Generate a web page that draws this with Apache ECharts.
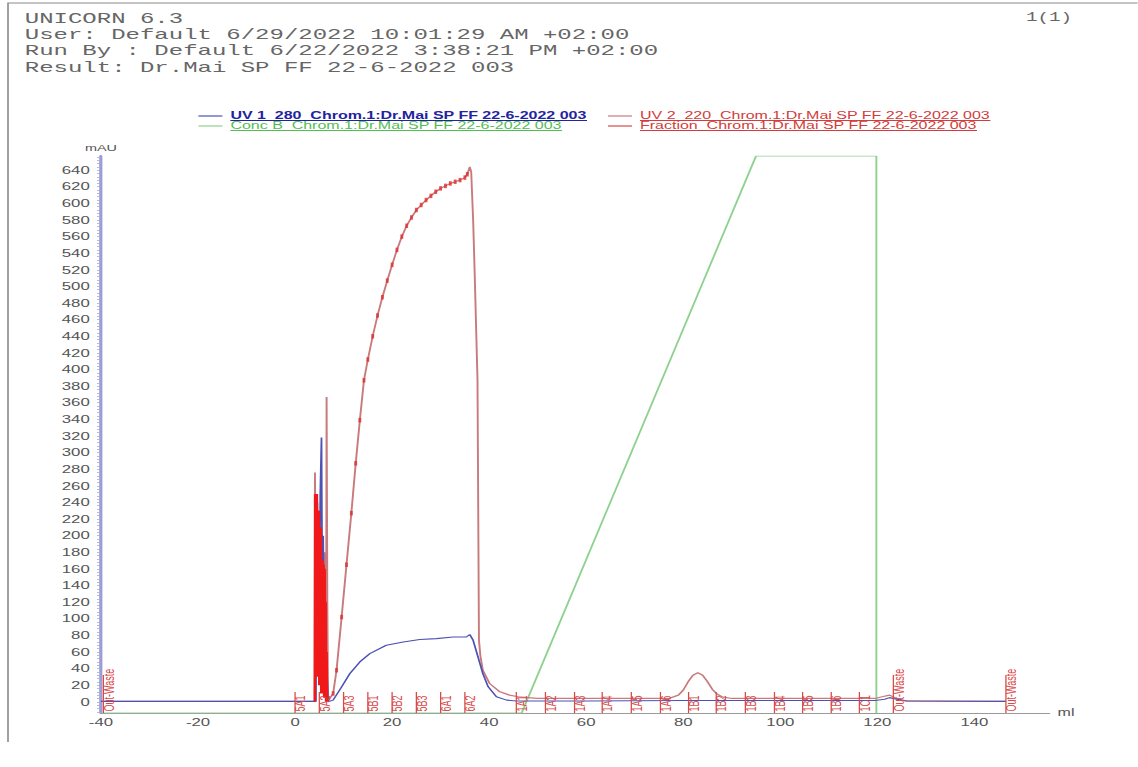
<!DOCTYPE html>
<html>
<head>
<meta charset="utf-8">
<title>UNICORN 6.3 - Dr.Mai SP FF 22-6-2022 003</title>
<script src="https://cdn.jsdelivr.net/npm/echarts@6/dist/echarts.min.js"></script>
<style>
  html, body { margin: 0; padding: 0; background: #fff; overflow: hidden; }
  /* the scanned print is stretched sideways, so the chart is drawn narrow and widened */
  #chart { width: 711.25px; height: 767px; transform: scaleX(1.6); transform-origin: 0 0; }
</style>
</head>
<body>
<div id="chart"></div>
<script>
const headerLines = [
  'UNICORN 6.3',
  'User: Default 6/29/2022 10:01:29 AM +02:00',
  'Run By : Default 6/22/2022 3:38:21 PM +02:00',
  'Result: Dr.Mai SP FF 22-6-2022 003'
];
const pageLabel = '1(1)';

const uv1Name = 'UV 1_280_Chrom.1:Dr.Mai SP FF 22-6-2022 003';
const uv2Name = 'UV 2_220_Chrom.1:Dr.Mai SP FF 22-6-2022 003';
const concName = 'Conc B_Chrom.1:Dr.Mai SP FF 22-6-2022 003';
const fracName = 'Fraction_Chrom.1:Dr.Mai SP FF 22-6-2022 003';

// [ml, mAU]
const uv1Data = [
  [-40, 0.5], [4.3, 0.5], [4.4, 180], [4.6, 60], [4.8, 230], [5.0, 90], [5.2, 250], [5.45, 318],
  [5.6, 140], [5.8, 200], [6.0, 40], [6.2, 50], [6.4, 10], [6.6, 30], [6.8, 0],
  [7.85, 2], [9.6, 18], [11.3, 34], [13.35, 48], [15.4, 58], [18.8, 68], [22.3, 72], [25.7, 75],
  [29.1, 76], [32.6, 78], [35.3, 78], [36.0, 81], [36.7, 74], [37.7, 54], [38.7, 34], [39.8, 18],
  [41.5, 6], [43.6, 2], [45.6, 1], [60, 1], [80, 1.5], [100, 1.5], [119.5, 1.5], [121.5, 3],
  [122.5, 5], [124, 3], [126, 1], [146.5, 0.5]
];

const uv2Data = [
  [-40, 0.5], [4.0, 0.5], [4.1, 276], [4.3, 150], [4.6, 240], [4.9, 120], [5.3, 200], [5.7, 90],
  [6.1, 180], [6.4, 60], [6.5, 367], [6.65, 120], [6.8, 1],
  [7.85, 10], [8.55, 38], [9.6, 102], [10.6, 165], [11.6, 227], [12.5, 287], [13.35, 339], [14.2, 387],
  [15, 412], [16, 440], [17, 465], [18, 487], [19, 507], [20, 526], [21, 544], [22, 560], [23, 573],
  [24, 583], [25, 592], [26, 598], [27, 604], [28, 609], [29, 614], [30, 618], [31, 621], [32, 624],
  [33, 626], [34, 628], [35, 631], [35.5, 635], [36.0, 644], [36.3, 638], [36.7, 580], [37.0, 520],
  [37.6, 387], [37.9, 74], [38.2, 55], [38.7, 38], [40.1, 22], [42.2, 12], [44.2, 8], [46, 6], [48, 5],
  [50, 4], [77, 4], [79, 8], [80, 14], [81, 24], [82, 32], [83, 35], [84, 32], [85, 24], [86, 15],
  [87, 9], [88, 6], [90, 4], [119.5, 4], [121, 6], [122.5, 8], [124, 4], [126, 1], [146.5, 0.5]
];

// dense red burst on the UV 2 trace during sample load
const uv2Burst = [
  [4.1, 0], [4.15, 250], [4.2, 40], [4.3, 235], [4.4, 60], [4.5, 250], [4.6, 30], [4.7, 175],
  [4.8, 50], [4.9, 230], [5.0, 20], [5.1, 175], [5.2, 40], [5.3, 210], [5.4, 10], [5.5, 170],
  [5.6, 30], [5.7, 170], [5.8, 10], [5.9, 165], [6.0, 5], [6.1, 160], [6.2, 5], [6.3, 120],
  [6.4, 0], [6.5, 60], [6.6, 0]
];

// [ml, %B]
const concBData = [[-40, 0], [46.7, 0], [95.0, 100], [119.8, 100], [119.8, 0]];

const fractionMl = [-39.5, 0, 5, 10, 15, 20, 25, 30, 35, 45.6, 51.6, 57.6, 63.3, 69.3, 75.3,
  81.1, 86.8, 92.8, 98.8, 104.6, 110.5, 116.3, 123.3, 146.5];
const fractionLabels = ['Out-Waste', '5A1', '5A2', '5A3', '5B1', '5B2', '5B3', '6A1', '6A2',
  '1A1', '1A2', '1A3', '1A4', '1A5', '1A6', '1B1', '1B2', '1B3', '1B4', '1B5', '1B6', '1C1',
  'Out-Waste', 'Out-Waste'];

const xTickValues = [-40, -20, 0, 20, 40, 60, 80, 100, 120, 140];
const yTickValues = [0, 20, 40, 60, 80, 100, 120, 140, 160, 180, 200, 220, 240, 260, 280, 300,
  320, 340, 360, 380, 400, 420, 440, 460, 480, 500, 520, 540, 560, 580, 600, 620, 640];

const Y_MIN = -13.5;
const Y_MAX = 657;
const FONT = '"Liberation Sans", Arial, sans-serif';
const MONO = '"Liberation Mono", monospace';

const yFineTicks = [];
for (let v = -12; v <= 656; v += 4) yFineTicks.push(v);

// underline under the legend names, as on the print
function textWidth(text, font) {
  const ctx = document.createElement('canvas').getContext('2d');
  ctx.font = font;
  return ctx.measureText(text).width;
}
const legendRows = [
  { name: uv1Name, x: 144, y: 116, color: '#2323a0', bold: true },
  { name: concName, x: 144, y: 126, color: '#52bd52', bold: false },
  { name: uv2Name, x: 400, y: 116, color: '#d23c3c', bold: false },
  { name: fracName, x: 400, y: 126, color: '#d23c3c', bold: false }
];
const underlines = legendRows.map(function (r) {
  const w = textWidth(r.name, (r.bold ? 'bold ' : '') + '10px ' + FONT);
  return {
    type: 'line',
    shape: { x1: r.x, y1: r.y + 4.5, x2: r.x + w, y2: r.y + 4.5 },
    style: { stroke: r.color, lineWidth: 0.8 }
  };
});

const chart = echarts.init(document.getElementById('chart'), null, { renderer: 'svg' });

const legendBase = {
  orient: 'vertical', top: 111, itemWidth: 15, itemHeight: 1.2, itemGap: 0, padding: 0,
  icon: 'rect', selectedMode: false,
  textStyle: { fontSize: 10, lineHeight: 10, fontFamily: FONT }
};

const option = {
  animation: false,
  backgroundColor: '#fff',
  grid: { left: 63.1, right: 55, top: 156, bottom: 54, containLabel: false },
  legend: [
    Object.assign({}, legendBase, {
      left: 124,
      data: [
        { name: uv1Name, textStyle: { color: '#2323a0', fontWeight: 'bold' } },
        { name: concName, textStyle: { color: '#52bd52' } }
      ]
    }),
    Object.assign({}, legendBase, {
      left: 380,
      data: [
        { name: uv2Name, textStyle: { color: '#d23c3c' } },
        { name: fracName, textStyle: { color: '#d23c3c' } }
      ]
    })
  ],
  xAxis: {
    type: 'value', min: -40, max: 155.5,
    name: 'ml', nameLocation: 'end', nameGap: 5,
    nameTextStyle: { color: '#555', fontSize: 10, fontFamily: FONT },
    axisLine: { show: true, onZero: false, lineStyle: { color: '#9a9a9a', width: 1 } },
    axisTick: { show: false },
    splitLine: { show: false },
    axisLabel: { customValues: xTickValues, color: '#555', fontSize: 10.5, fontFamily: FONT, margin: 4 }
  },
  yAxis: [
    {
      type: 'value', min: Y_MIN, max: Y_MAX,
      name: 'mAU', nameLocation: 'end', nameGap: 4,
      nameTextStyle: { color: '#555', fontSize: 9, fontFamily: FONT, align: 'center' },
      axisLine: { show: true, onZero: false, lineStyle: { color: '#9c9cd8', width: 2 } },
      axisTick: { show: true, customValues: yFineTicks, length: 2.5, lineStyle: { color: '#a9a9d6', width: 0.8 } },
      splitLine: { show: false },
      axisLabel: { customValues: yTickValues, color: '#555', fontSize: 10.5, fontFamily: FONT, margin: 7 }
    },
    { type: 'value', min: 0, max: 100, show: false }
  ],
  graphic: [
    {
      type: 'polyline', silent: true,
      shape: { points: [[5, 742], [5, 3], [720, 3]] },
      style: { stroke: '#8a8a8a', lineWidth: 1, fill: null }
    },
    {
      type: 'group', silent: true,
      children: headerLines.map(function (t, i) {
        return {
          type: 'text', x: 15.5, y: 18.5 + i * 16.4,
          style: { text: t, fill: '#666', font: '15px ' + MONO, textAlign: 'left', textVerticalAlign: 'middle' }
        };
      })
    },
    {
      type: 'text', x: 670, y: 18.5, silent: true,
      style: { text: pageLabel, fill: '#666', font: '12px ' + MONO, textAlign: 'right', textVerticalAlign: 'middle' }
    },
    { type: 'group', silent: true, children: underlines }
  ],
  series: [
    {
      name: concName, type: 'line', yAxisIndex: 1, data: concBData,
      showSymbol: false, z: 1,
      itemStyle: { color: '#8fd18f' }, lineStyle: { color: '#8fd18f', width: 1.2 }
    },
    {
      name: uv2Name, type: 'line', data: uv2Data, showSymbol: false, z: 2,
      itemStyle: { color: '#c97a7c' }, lineStyle: { color: '#c97a7c', width: 1.2 }
    },
    {
      // red ticks along the rising UV 2 trace
      name: uv2Name + ' marks', type: 'scatter', z: 3, silent: true,
      data: uv2Data.filter(function (p) { return p[0] > 7.8 && p[0] < 35.6; }),
      symbol: 'rect', symbolSize: [1.8, 4.5],
      itemStyle: { color: '#dc2f2f' }
    },
    {
      name: uv1Name, type: 'line', data: uv1Data, showSymbol: false, z: 4,
      itemStyle: { color: '#4b52b4' }, lineStyle: { color: '#4b52b4', width: 1.1 }
    },
    {
      name: uv2Name + ' burst', type: 'line', data: uv2Burst, showSymbol: false, z: 5, silent: true,
      lineStyle: { color: '#f01818', width: 1.6 }
    },
    {
      name: fracName, type: 'custom', z: 6,
      itemStyle: { color: '#d84a4a' },
      data: fractionMl.map(function (ml) { return [ml, Y_MIN]; }),
      encode: { x: 0, y: 1 },
      renderItem: function (params, api) {
        const base = api.coord([api.value(0), Y_MIN]);
        const label = fractionLabels[params.dataIndex];
        const h = label === 'Out-Waste' ? 38 : 21;
        return {
          type: 'group',
          children: [
            {
              type: 'line',
              shape: { x1: base[0], y1: base[1], x2: base[0], y2: base[1] - h },
              style: { stroke: '#d84a4a', lineWidth: 0.8 }
            },
            {
              type: 'text', x: base[0] + 3.4, y: base[1] - 1.5, rotation: Math.PI / 2,
              style: {
                text: label, fill: '#d84a4a', font: '9px ' + FONT,
                textAlign: 'left', textVerticalAlign: 'middle'
              }
            }
          ]
        };
      }
    }
  ]
};

chart.setOption(option);
</script>
</body>
</html>
